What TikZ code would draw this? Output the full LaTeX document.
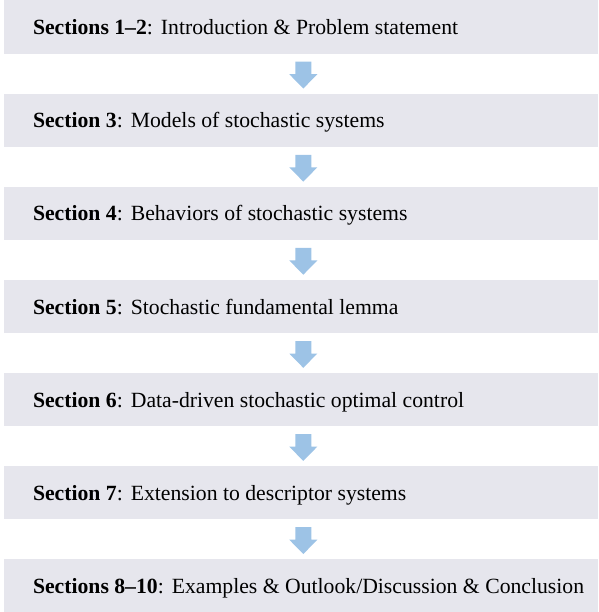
\documentclass[tikz,border=0pt]{standalone}
\usepackage{fontspec}
\setmainfont{Liberation Serif}
\usetikzlibrary{calc}
\definecolor{boxfill}{RGB}{230,230,237}
\definecolor{arrowfill}{RGB}{157,195,230}
\tikzset{
  secbox/.style={rectangle, fill=boxfill, draw=none, minimum width=594pt, minimum height=53.4pt, inner sep=0pt},
  seclbl/.style={anchor=base west, inner sep=0pt, font=\fontsize{21.7}{26}\selectfont},
  downarrow/.style={fill=arrowfill, draw=none}
}
\newcommand{\secgap}{\hspace{0.37em}}
\newcommand{\downarr}[2]{%
  \coordinate (m#1) at ($(#1.south)!0.5!(#2.north)+(2.3pt,0)$);
  \fill[downarrow, shift={(m#1)}] (-8pt,12pt) -- (8pt,12pt) -- (8pt,-0.5pt) -- (14pt,-0.5pt) -- (0pt,-14.8pt) -- (-14pt,-0.5pt) -- (-8pt,-0.5pt) -- cycle;}
\begin{document}
\begin{tikzpicture}[x=1pt,y=1pt]
\useasboundingbox (0,0) rectangle (598,612);
\node[secbox] (b1) at (301,584.8) {};
\node[secbox] (b2) at (301,491.7) {};
\node[secbox] (b3) at (301,398.6) {};
\node[secbox] (b4) at (301,305.5) {};
\node[secbox] (b5) at (301,212.4) {};
\node[secbox] (b6) at (301,119.3) {};
\node[secbox] (b7) at (301,26.2) {};
\node[seclbl] (t1) at ([xshift=29pt,yshift=-7.6pt]b1.west) {\textbf{Sections 1--2}:\secgap Introduction \& Problem statement};
\node[seclbl] (t2) at ([xshift=29pt,yshift=-7.6pt]b2.west) {\textbf{Section 3}:\secgap Models of stochastic systems};
\node[seclbl] (t3) at ([xshift=29pt,yshift=-7.6pt]b3.west) {\textbf{Section 4}:\secgap Behaviors of stochastic systems};
\node[seclbl] (t4) at ([xshift=29pt,yshift=-7.6pt]b4.west) {\textbf{Section 5}:\secgap Stochastic fundamental lemma};
\node[seclbl] (t5) at ([xshift=29pt,yshift=-7.6pt]b5.west) {\textbf{Section 6}:\secgap Data-driven stochastic optimal control};
\node[seclbl] (t6) at ([xshift=29pt,yshift=-7.6pt]b6.west) {\textbf{Section 7}:\secgap Extension to descriptor systems};
\node[seclbl] (t7) at ([xshift=29pt,yshift=-7.6pt]b7.west) {\textbf{Sections 8--10}:\secgap Examples \& Outlook/Discussion \& Conclusion};
\downarr{b1}{b2}
\downarr{b2}{b3}
\downarr{b3}{b4}
\downarr{b4}{b5}
\downarr{b5}{b6}
\downarr{b6}{b7}
\end{tikzpicture}
\end{document}
